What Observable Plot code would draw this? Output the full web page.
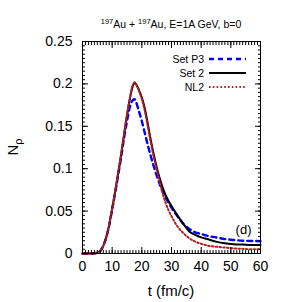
<!DOCTYPE html>
<html>
<head>
<meta charset="utf-8">
<script src="https://cdn.jsdelivr.net/npm/d3@7"></script>
<script src="https://cdn.jsdelivr.net/npm/@observablehq/plot@0.6"></script>
<style>
  html, body { margin: 0; padding: 0; background: #fff; }
  #chart { width: 288px; height: 302px; }
</style>
</head>
<body>
<div id="chart"></div>
<script>
// ---- data ----
const tValues = [0, 2, 4, 5, 6, 7, 8, 9, 10, 11, 12, 13, 14, 15, 16, 17, 17.5, 18, 19, 20, 21, 22, 23, 24, 25, 26, 27, 28, 29, 30, 32, 34, 36, 38, 40, 42, 45, 48, 51, 54, 57, 60];
const setP3 = [0, 0, 0.0003, 0.0008, 0.003, 0.009, 0.019, 0.033, 0.052, 0.071, 0.092, 0.113, 0.136, 0.156, 0.173, 0.181, 0.182, 0.179, 0.168, 0.156, 0.142, 0.128, 0.115, 0.103, 0.092, 0.082, 0.073, 0.066, 0.060, 0.054, 0.044, 0.035, 0.029, 0.025, 0.023, 0.021, 0.019, 0.017, 0.016, 0.015, 0.0148, 0.0145];
const set2 = [0, 0, 0.0003, 0.0008, 0.003, 0.009, 0.019, 0.034, 0.053, 0.073, 0.094, 0.116, 0.140, 0.163, 0.183, 0.198, 0.201, 0.200, 0.193, 0.184, 0.171, 0.153, 0.134, 0.117, 0.102, 0.089, 0.078, 0.069, 0.062, 0.056, 0.045, 0.035, 0.026, 0.022, 0.019, 0.017, 0.014, 0.012, 0.011, 0.0105, 0.010, 0.010];
const nl2 = [0, 0, 0.0003, 0.0008, 0.003, 0.009, 0.019, 0.034, 0.053, 0.073, 0.095, 0.117, 0.141, 0.164, 0.184, 0.199, 0.202, 0.200, 0.192, 0.182, 0.168, 0.150, 0.131, 0.114, 0.099, 0.085, 0.071, 0.060, 0.051, 0.044, 0.032, 0.024, 0.018, 0.014, 0.0115, 0.0095, 0.008, 0.007, 0.006, 0.0055, 0.005, 0.005];

const seriesNames = ["Set P3", "Set 2", "NL2"];
const seriesValues = [setP3, set2, nl2];
const seriesColors = ["#0000ff", "#000000", "#b22222"];
const seriesDash = ["5,4", null, "1.6,2.2"];
const seriesWidth = [2.4, 2, 2];

const xTicks = [0, 10, 20, 30, 40, 50, 60];
const xTickLabels = ["0", "10", "20", "30", "40", "50", "60"];
const xMinor = d3.range(0, 61, 1);
const yTicks = [0, 0.05, 0.1, 0.15, 0.2, 0.25];
const yTickLabels = ["0", "0.05", "0.1", "0.15", "0.2", "0.25"];
const yMinor = d3.range(0, 51, 1).map(i => i * 0.005);

const panelLabel = "(d)";
const xLabel = "t (fm/c)";

const rows = [];
seriesNames.forEach((name, s) => {
  tValues.forEach((t, i) => rows.push({series: name, t, v: seriesValues[s][i]}));
});

const ML = 82, MR = 28, MT = 41, MB = 49, W = 288, H = 302;
const font = "'Liberation Sans', Arial, Helvetica, sans-serif";

const lineMarks = seriesNames.map((name, s) =>
  Plot.line(rows.filter(d => d.series === name), {
    x: "t", y: "v", stroke: seriesColors[s], strokeWidth: seriesWidth[s],
    strokeDasharray: seriesDash[s], curve: "monotone-x"
  })
);

const chart = Plot.plot({
  width: W, height: H,
  marginLeft: ML, marginRight: MR, marginTop: MT, marginBottom: MB,
  style: {fontFamily: font, fontSize: "14px", color: "#000", background: "#fff"},
  x: {domain: [0, 60], label: null},
  y: {domain: [0, 0.25], label: null},
  marks: [
    ...lineMarks,
    Plot.axisX({anchor: "bottom", ticks: xTicks, tickSize: 0, tickPadding: 8, tickFormat: (d, i) => xTickLabels[i], fontSize: 14, label: null}),
    Plot.axisX({anchor: "bottom", ticks: xMinor, tickSize: -3, tickFormat: () => "", label: null}),
    Plot.axisX({anchor: "bottom", ticks: xTicks, tickSize: -6, tickFormat: () => "", label: null}),
    Plot.axisX({anchor: "top", ticks: xMinor, tickSize: -3, tickFormat: () => "", label: null}),
    Plot.axisX({anchor: "top", ticks: xTicks, tickSize: -6, tickFormat: () => "", label: null}),
    Plot.axisY({anchor: "left", ticks: yTicks, tickSize: 0, tickPadding: 10, tickFormat: (d, i) => yTickLabels[i], fontSize: 14, label: null}),
    Plot.axisY({anchor: "left", ticks: yMinor, tickSize: -3, tickFormat: () => "", label: null}),
    Plot.axisY({anchor: "left", ticks: yTicks, tickSize: -6, tickFormat: () => "", label: null}),
    Plot.axisY({anchor: "right", ticks: yMinor, tickSize: -3, tickFormat: () => "", label: null}),
    Plot.axisY({anchor: "right", ticks: yTicks, tickSize: -6, tickFormat: () => "", label: null}),
    Plot.frame({stroke: "#000", strokeWidth: 1}),
    Plot.text([panelLabel], {frameAnchor: "bottom-right", dx: -9, dy: -20, fontSize: 13, textAnchor: "end"})
  ]
});

document.getElementById("chart").appendChild(chart);

const svg = d3.select(chart);
const cx = (ML + (W - MR)) / 2;

// title with superscripts
const title = svg.append("text")
  .attr("x", cx).attr("y", 28)
  .attr("text-anchor", "middle")
  .attr("font-family", font).attr("font-size", 10.5).attr("fill", "#000");
title.append("tspan").attr("font-size", 7.5).attr("dy", -4).text("197");
title.append("tspan").attr("dy", 4).text("Au + ");
title.append("tspan").attr("font-size", 7.5).attr("dy", -4).text("197");
title.append("tspan").attr("dy", 4).text("Au, E=1A GeV, b=0");

// x label
svg.append("text")
  .attr("x", cx).attr("y", 296)
  .attr("text-anchor", "middle")
  .attr("font-family", font).attr("font-size", 15).attr("fill", "#000")
  .text(xLabel);

// y label N_rho
const yl = svg.append("text")
  .attr("transform", `translate(18, ${(MT + (H - MB)) / 2}) rotate(-90)`)
  .attr("text-anchor", "middle")
  .attr("font-family", font).attr("font-size", 15).attr("fill", "#000");
yl.append("tspan").text("N");
yl.append("tspan").attr("font-size", 11).attr("dy", 4).text("ρ");

// legend
const fr = W - MR;
seriesNames.forEach((name, s) => {
  const y = MT + 18 + s * 14;
  svg.append("text")
    .attr("x", fr - 56).attr("y", y).attr("dy", "0.35em")
    .attr("text-anchor", "end")
    .attr("font-family", font).attr("font-size", 10.5).attr("fill", "#000")
    .text(name);
  svg.append("line")
    .attr("x1", fr - 51).attr("x2", fr - 14)
    .attr("y1", y).attr("y2", y)
    .attr("stroke", seriesColors[s]).attr("stroke-width", seriesWidth[s])
    .attr("stroke-dasharray", seriesDash[s]);
});
</script>
</body>
</html>
